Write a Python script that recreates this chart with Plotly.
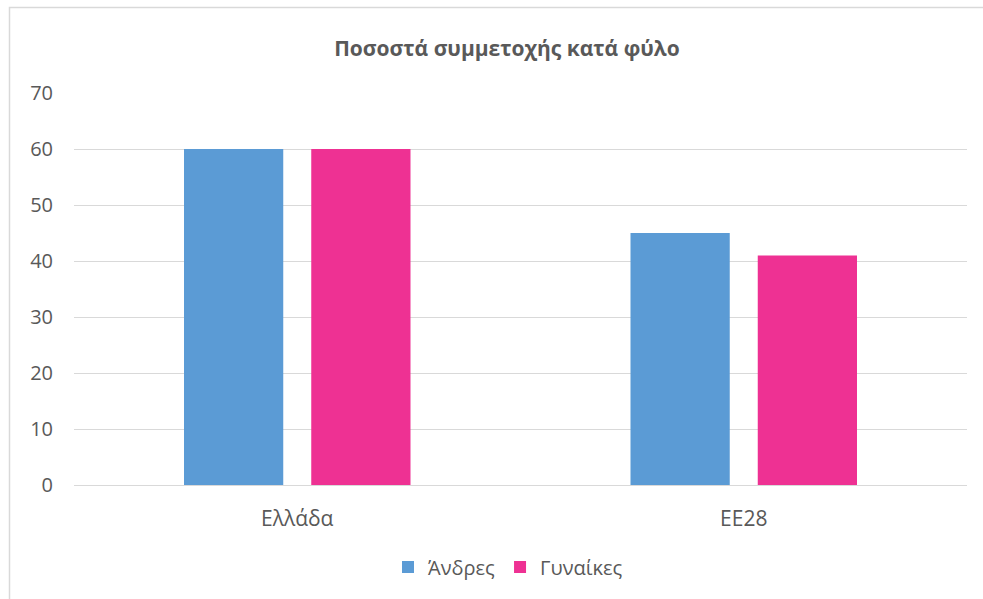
import plotly.graph_objects as go

categories = ["Ελλάδα", "ΕΕ28"]
series_names = ["Άνδρες", "Γυναίκες"]
men = [60, 45]
women = [60, 41]
colors = ["#5B9BD5", "#EE3193"]
y_ticks = [0, 10, 20, 30, 40, 50, 60, 70]
title_text = "Ποσοστά συμμετοχής κατά φύλο"

W, H = 983, 599
L, R, T, B = 74, 16, 93, 114
pw, ph = W - L - R, H - T - B

fig = go.Figure()
for name, vals, col in zip(series_names, [men, women], colors):
    fig.add_trace(go.Bar(x=categories, y=vals, name=name, marker=dict(color=col, line=dict(width=0))))

def px_x(p):
    return (p - L) / pw

def px_y(p):
    return (H - B - p) / ph

fig.update_layout(
    width=W, height=H,
    margin=dict(l=L, r=R, t=T, b=B),
    paper_bgcolor="white", plot_bgcolor="white",
    barmode="group", bargap=0.43, bargroupgap=0.22,
    font=dict(family="Open Sans", size=20, color="#595959"),
    title=dict(text="<b>" + title_text + "</b>", x=px_x(507), xref="paper", xanchor="center",
               y=1 - 49 / H, yanchor="middle", font=dict(size=21, color="#595959")),
    showlegend=True,
    legend=dict(orientation="h", x=px_x(508), xanchor="center", y=px_y(567), yanchor="middle",
                font=dict(size=20, color="#595959"), itemwidth=30, tracegroupgap=0),
    xaxis=dict(showgrid=False, showline=False, zeroline=False, ticks="", tickfont=dict(size=21),
               ticklabelstandoff=19),
    yaxis=dict(range=[0, 70], tickvals=y_ticks, showgrid=True, gridcolor="#D9D9D9", gridwidth=1,
               zeroline=True, zerolinecolor="#D9D9D9", zerolinewidth=1, showline=False, ticks="",
               tickfont=dict(size=20), ticklabelstandoff=20),
    shapes=[dict(type="rect", xref="paper", yref="paper",
                 x0=px_x(9.5), x1=px_x(1000), y0=px_y(620), y1=px_y(7.5),
                 line=dict(color="#D9D9D9", width=1.5), fillcolor="rgba(0,0,0,0)", layer="below")],
)

fig.write_html("out.html", config={"displayModeBar": False},
               post_script="document.body.style.margin='0';document.body.style.overflow='hidden';")
